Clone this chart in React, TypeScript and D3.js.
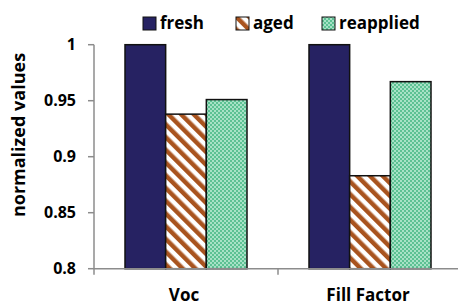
import * as d3 from 'd3';
import React, { useEffect, useRef } from 'react';

const categories = ['Voc', 'Fill Factor'];
const seriesNames = ['fresh', 'aged', 'reapplied'];
const fresh = [1, 1];
const aged = [0.938, 0.883];
const reapplied = [0.951, 0.967];
const yTicks = [0.8, 0.85, 0.9, 0.95, 1];
const yTickLabels = ['0.8', '0.85', '0.9', '0.95', '1'];

const FONT = '"Open Sans", Lato, sans-serif';

function App() {
  const node = useRef<SVGSVGElement>(null);

  useEffect(() => {
    const width = 458;
    const height = 305;
    const left = 94;
    const right = 462;
    const top = 44.7;
    const bottom = 268.7;

    const svg = d3.select(node.current);
    svg.selectAll('*').remove();
    svg.attr('width', width).attr('height', height);

    const defs = svg.append('defs');
    const stripes = defs
      .append('pattern')
      .attr('id', 'aged')
      .attr('patternUnits', 'userSpaceOnUse')
      .attr('width', 9)
      .attr('height', 9)
      .attr('patternTransform', 'rotate(-45)');
    stripes.append('rect').attr('width', 9).attr('height', 9).attr('fill', '#fff');
    stripes.append('rect').attr('width', 4.5).attr('height', 9).attr('fill', '#a9541f');

    const checks = defs
      .append('pattern')
      .attr('id', 'reapplied')
      .attr('patternUnits', 'userSpaceOnUse')
      .attr('width', 4)
      .attr('height', 4);
    checks.append('rect').attr('width', 4).attr('height', 4).attr('fill', '#5cc193');
    checks.append('rect').attr('width', 2).attr('height', 2).attr('fill', '#a7e2c6');
    checks.append('rect').attr('x', 2).attr('y', 2).attr('width', 2).attr('height', 2).attr('fill', '#a7e2c6');

    const fills = ['#262262', 'url(#aged)', 'url(#reapplied)'];
    const values = [fresh, aged, reapplied];

    const x0 = d3.scaleBand().domain(categories).range([left, right]).paddingInner(0).paddingOuter(0);
    const x1 = d3
      .scaleBand()
      .domain(seriesNames)
      .range([31, x0.bandwidth() - 31]);
    const y = d3.scaleLinear().domain([0.8, 1]).range([bottom, top]);

    // bars
    categories.forEach((c, ci) => {
      seriesNames.forEach((s, si) => {
        const v = values[si][ci];
        svg
          .append('rect')
          .attr('x', (x0(c) as number) + (x1(s) as number))
          .attr('y', y(v))
          .attr('width', x1.bandwidth())
          .attr('height', y(0.8) - y(v))
          .attr('fill', fills[si])
          .attr('stroke', '#111')
          .attr('stroke-width', 1.5);
      });
    });

    // y axis
    const axisColor = '#8c8c8c';
    svg
      .append('line')
      .attr('x1', left)
      .attr('x2', left)
      .attr('y1', top)
      .attr('y2', bottom)
      .attr('stroke', axisColor)
      .attr('stroke-width', 1.5);
    yTicks.forEach((t, i) => {
      svg
        .append('line')
        .attr('x1', left - 6)
        .attr('x2', left)
        .attr('y1', y(t))
        .attr('y2', y(t))
        .attr('stroke', axisColor)
        .attr('stroke-width', 1.5);
      svg
        .append('text')
        .attr('x', 76)
        .attr('y', y(t))
        .attr('dy', '0.36em')
        .attr('text-anchor', 'end')
        .attr('font-family', FONT)
        .attr('font-weight', 'bold')
        .attr('font-size', 16)
        .attr('fill', '#000')
        .text(yTickLabels[i]);
    });

    // x axis
    svg
      .append('line')
      .attr('x1', left)
      .attr('x2', width)
      .attr('y1', bottom)
      .attr('y2', bottom)
      .attr('stroke', axisColor)
      .attr('stroke-width', 1.5);
    categories.forEach((c, i) => {
      const xs = x0(c) as number;
      svg
        .append('line')
        .attr('x1', xs)
        .attr('x2', xs)
        .attr('y1', bottom)
        .attr('y2', bottom + 6)
        .attr('stroke', axisColor)
        .attr('stroke-width', 1.5);
      svg
        .append('text')
        .attr('x', xs + x0.bandwidth() / 2 - 2)
        .attr('y', 301)
        .attr('text-anchor', 'middle')
        .attr('font-family', FONT)
        .attr('font-weight', 'bold')
        .attr('font-size', 17)
        .attr('fill', '#000')
        .text(c);
    });

    // y title
    svg
      .append('text')
      .attr('transform', 'translate(25,' + 135 + ') rotate(-90)')
      .attr('text-anchor', 'middle')
      .attr('font-family', FONT)
      .attr('font-weight', 'bold')
      .attr('font-size', 18)
      .attr('fill', '#000')
      .text('normalized values');

    // legend
    const legendX = [143, 236, 322];
    seriesNames.forEach((s, i) => {
      svg
        .append('rect')
        .attr('x', legendX[i])
        .attr('y', 17)
        .attr('width', 13)
        .attr('height', 13)
        .attr('fill', fills[i])
        .attr('stroke', '#111')
        .attr('stroke-width', 1);
      svg
        .append('text')
        .attr('x', legendX[i] + 17)
        .attr('y', 29)
        .attr('font-family', FONT)
        .attr('font-weight', 'bold')
        .attr('font-size', 17)
        .attr('fill', '#000')
        .text(s);
    });
  }, []);

  return (
    <div style={{ position: 'absolute', left: 0, top: 0 }}>
      <svg ref={node} style={{ display: 'block' }} />
    </div>
  );
}

export default App;
